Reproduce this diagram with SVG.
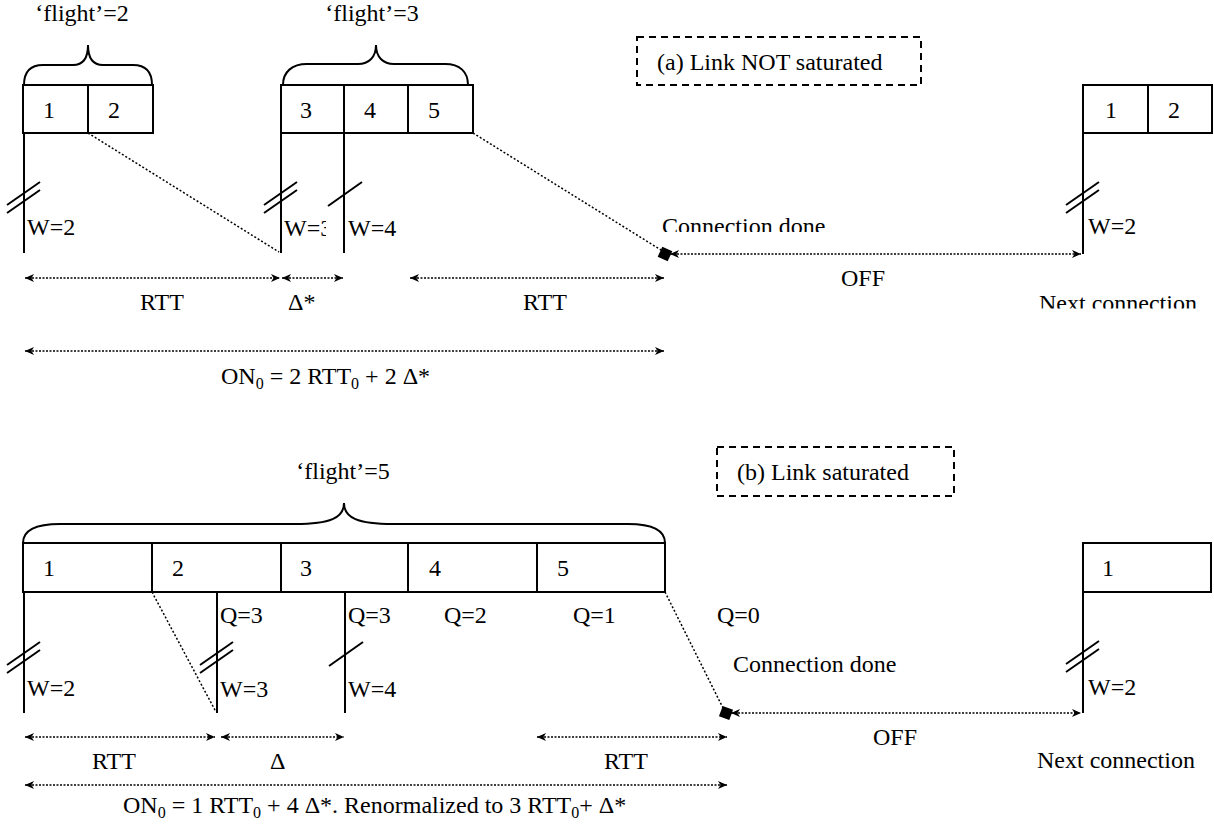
<svg xmlns="http://www.w3.org/2000/svg" width="1214" height="832" viewBox="0 0 1214 832">
<style>
text{font-family:"Liberation Serif","Times New Roman",serif;font-size:24px;fill:#000}
.box{fill:#fff;stroke:#000;stroke-width:2}
.ln{stroke:#000;stroke-width:2;fill:none}
.dot{stroke:#000;stroke-width:1.5;stroke-dasharray:2 2;fill:none}
.arr{stroke:#000;stroke-width:1.5;stroke-dasharray:2 1.5;fill:none;marker-start:url(#ah);marker-end:url(#ah)}
.dash{fill:none;stroke:#000;stroke-width:2;stroke-dasharray:7 5}
.brace{fill:none;stroke:#000;stroke-width:2}
.sub{font-size:16px}
</style>
<defs>
<marker id="ah" markerWidth="10" markerHeight="10" refX="9" refY="4" orient="auto-start-reverse" markerUnits="userSpaceOnUse"><path d="M0,0 L9,4 L0,8 L2.5,4 z" fill="#000"/></marker>
<g id="dbl"><line x1="-17" y1="12" x2="16" y2="-11" stroke="#000" stroke-width="2"/><line x1="-17" y1="20" x2="16" y2="-3" stroke="#000" stroke-width="2"/></g>
<g id="sgl"><line x1="-16" y1="13" x2="18" y2="-11" stroke="#000" stroke-width="2"/></g>
<clipPath id="clipA"><rect x="600" y="195" width="300" height="37"/></clipPath>
<clipPath id="clipB"><rect x="1000" y="280" width="214" height="28.5"/></clipPath>
</defs>

<!-- ===== (a) Link NOT saturated ===== -->
<g id="a-flight2"><text x="82" y="21" text-anchor="middle">‘flight’=2</text>
<path class="brace" d="M24,85 C24,72 30,65 43,65 L73,65 C83,65 88,58 88,45 C88,58 93,65 103,65 L133,65 C146,65 152,72 152,85"/></g>
<g id="a-box12"><rect class="box" x="23" y="85" width="130" height="48"/><line class="ln" x1="88" y1="85" x2="88" y2="133"/>
<text x="43" y="118">1</text><text x="108" y="118">2</text></g>

<g id="a-flight3"><text x="372" y="21" text-anchor="middle">‘flight’=3</text>
<path class="brace" d="M283,85 C283,72 292,64 307,64 L358,64 C369,64 376,57 376,45 C376,57 383,64 394,64 L445,64 C460,64 468,72 468,85"/></g>
<g id="a-box345"><rect class="box" x="281" y="85" width="192" height="48"/><line class="ln" x1="344" y1="85" x2="344" y2="133"/><line class="ln" x1="408" y1="85" x2="408" y2="133"/>
<text x="300" y="118">3</text><text x="364" y="118">4</text><text x="428" y="118">5</text></g>

<g id="a-legend"><rect class="dash" x="637" y="37" width="284" height="48"/><text x="657" y="70">(a) Link NOT saturated</text></g>

<g id="a-next-box"><rect class="box" x="1083" y="85" width="129" height="48"/><line class="ln" x1="1148" y1="85" x2="1148" y2="133"/>
<text x="1105" y="118">1</text><text x="1168" y="118">2</text></g>

<g id="a-w2"><line class="ln" x1="24" y1="133" x2="24" y2="253"/><use href="#dbl" x="24" y="193"/><text x="27" y="235">W=2</text></g>
<g id="a-w3"><line class="ln" x1="281" y1="133" x2="281" y2="253"/><use href="#dbl" x="281" y="193"/><text x="284" y="236">W=3</text></g>
<g id="a-w4"><rect x="326" y="212" width="16.5" height="32" fill="#fff"/><line class="ln" x1="344" y1="133" x2="344" y2="253"/><use href="#sgl" x="344" y="193"/><text x="348" y="236">W=4</text></g>
<g id="a-next-w2"><line class="ln" x1="1083" y1="133" x2="1083" y2="254"/><use href="#dbl" x="1083" y="193"/><text x="1088" y="234">W=2</text></g>

<g id="a-done"><text x="662" y="234" clip-path="url(#clipA)">Connection done</text>
<rect x="-5.5" y="-5.5" width="11" height="11" fill="#000" transform="translate(665,254) rotate(25)"/></g>
<g id="a-labels"><text x="841" y="286">OFF</text>
<text x="1039" y="311" clip-path="url(#clipB)">Next connection</text>
<text x="140" y="310">RTT</text><text x="288" y="310">Δ*</text><text x="523" y="310">RTT</text>
<text x="221" y="384">ON<tspan class="sub" dy="5">0</tspan><tspan dy="-5"> = 2 RTT</tspan><tspan class="sub" dy="5">0</tspan><tspan dy="-5"> + 2 Δ*</tspan></text></g>

<!-- ===== (b) Link saturated ===== -->
<g id="b-flight5"><text x="343" y="479" text-anchor="middle">‘flight’=5</text>
<path class="brace" d="M23,543 C23,530 35,524 60,524 L295,524 C330,524 344,518 344,503 C344,518 358,524 393,524 L628,524 C653,524 665,530 665,543"/></g>
<g id="b-box"><rect class="box" x="23" y="543" width="642" height="49"/>
<line class="ln" x1="152" y1="543" x2="152" y2="592"/><line class="ln" x1="281" y1="543" x2="281" y2="592"/><line class="ln" x1="408" y1="543" x2="408" y2="592"/><line class="ln" x1="537" y1="543" x2="537" y2="592"/>
<text x="43" y="576">1</text><text x="172" y="576">2</text><text x="300" y="576">3</text><text x="429" y="576">4</text><text x="557" y="576">5</text></g>

<g id="b-legend"><rect class="dash" x="717" y="447" width="237" height="49"/><text x="737" y="480">(b) Link saturated</text></g>
<g id="b-next-box"><rect class="box" x="1083" y="543" width="128" height="49"/><text x="1102" y="576">1</text></g>

<g id="b-q"><text x="220" y="623">Q=3</text><text x="348" y="623">Q=3</text><text x="444" y="623">Q=2</text><text x="573" y="623">Q=1</text><text x="717" y="623">Q=0</text></g>

<g id="b-w2"><line class="ln" x1="24" y1="592" x2="24" y2="713"/><use href="#dbl" x="24" y="653"/><text x="27" y="696">W=2</text></g>
<g id="b-w3"><line class="ln" x1="217" y1="592" x2="217" y2="713"/><use href="#dbl" x="217" y="653"/><text x="220" y="697">W=3</text></g>
<g id="b-w4"><line class="ln" x1="345" y1="592" x2="345" y2="713"/><use href="#sgl" x="345" y="653"/><text x="348" y="697">W=4</text></g>
<g id="b-next-w2"><line class="ln" x1="1083" y1="592" x2="1083" y2="713"/><use href="#dbl" x="1083" y="652"/><text x="1088" y="695">W=2</text></g>

<g id="b-done"><text x="733" y="672">Connection done</text>
<rect x="-5.5" y="-5.5" width="11" height="11" fill="#000" transform="translate(726,713) rotate(20)"/></g>
<g id="b-labels"><text x="873" y="745">OFF</text><text x="1037" y="768">Next connection</text>
<text x="92" y="769">RTT</text><text x="270" y="769">Δ</text><text x="604" y="769">RTT</text>
<text x="123" y="813">ON<tspan class="sub" dy="5">0</tspan><tspan dy="-5"> = 1 RTT</tspan><tspan class="sub" dy="5">0</tspan><tspan dy="-5"> + 4 Δ*. Renormalized to 3 RTT</tspan><tspan class="sub" dy="5">0</tspan><tspan dy="-5">+ Δ*</tspan></text></g>

<!-- ===== connectors ===== -->
<g id="connectors">
<line class="dot" x1="88" y1="133" x2="279" y2="252"/>
<line class="dot" x1="473" y1="133" x2="661" y2="250"/>
<line class="arr" x1="670" y1="254" x2="1081" y2="254"/>
<line class="arr" x1="25" y1="278" x2="280" y2="278"/>
<line class="arr" x1="282" y1="278" x2="343" y2="278"/>
<line class="arr" x1="410" y1="278" x2="664" y2="278"/>
<line class="arr" x1="25" y1="351" x2="664" y2="351"/>

<line class="dot" x1="152" y1="592" x2="216" y2="712"/>
<line class="dot" x1="665" y1="592" x2="723" y2="708"/>
<line class="arr" x1="731" y1="713" x2="1081" y2="713"/>
<line class="arr" x1="25" y1="737" x2="215" y2="737"/>
<line class="arr" x1="221" y1="737" x2="344" y2="737"/>
<line class="arr" x1="537" y1="737" x2="727" y2="737"/>
<line class="arr" x1="25" y1="785" x2="727" y2="785"/>
</g>
</svg>
